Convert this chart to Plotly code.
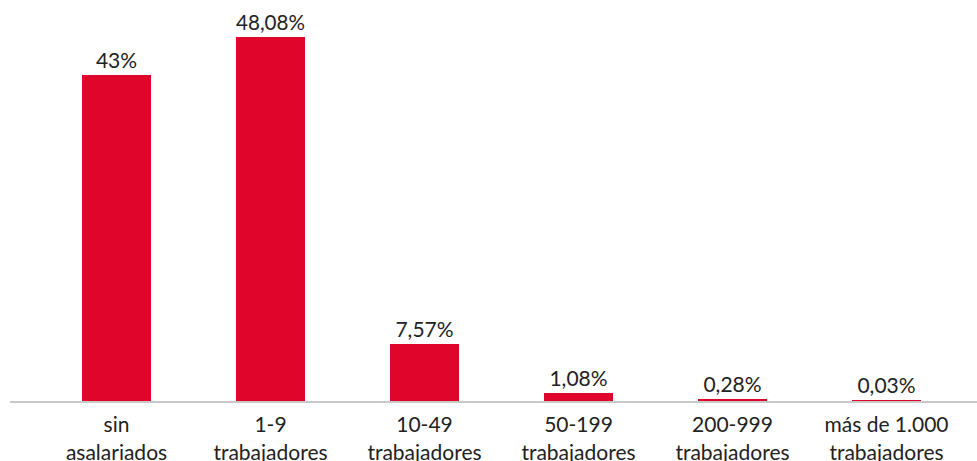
import plotly.graph_objects as go

categories = ["sin<br>asalariados", "1-9<br>trabajadores", "10-49<br>trabajadores",
              "50-199<br>trabajadores", "200-999<br>trabajadores", "más de 1.000<br>trabajadores"]
values = [43, 48.08, 7.57, 1.08, 0.28, 0.03]
labels = ["43%", "48,08%", "7,57%", "1,08%", "0,28%", "0,03%"]

RED = "#E0052A"
FONT = "Lato"

fig = go.Figure(go.Bar(
    x=list(range(len(categories))), y=values, text=labels,
    textposition="outside", cliponaxis=False,
    textfont=dict(family=FONT, size=21, color="#222222"),
    marker=dict(color=RED, line=dict(width=0)),
    width=0.448,
))

fig.update_layout(
    width=977, height=461,
    margin=dict(l=10, r=0, t=0, b=60, autoexpand=False),
    plot_bgcolor="white", paper_bgcolor="white",
    showlegend=False,
    bargap=0,
    xaxis=dict(range=[-0.6916, 5.5877], tickmode="array",
               tickvals=list(range(len(categories))), ticktext=categories,
               showgrid=False, zeroline=False, showline=True,
               linecolor="#C8C8C8", linewidth=2, ticks="",
               ticklabelstandoff=4, automargin=False,
               tickfont=dict(family=FONT, size=21, color="#222222")),
    yaxis=dict(range=[0, 52.9], visible=False, showgrid=False, zeroline=False,
               automargin=False),
    uniformtext=dict(mode=False),
)

fig.write_html("out.html", config={"displayModeBar": False},
               post_script="document.body.style.margin='0';document.body.style.overflow='hidden';")
